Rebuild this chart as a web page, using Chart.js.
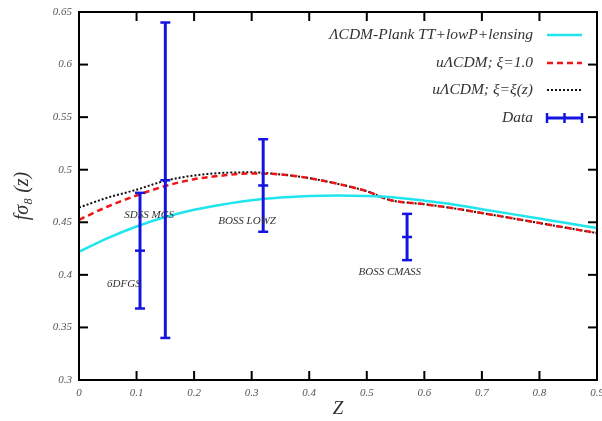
<!DOCTYPE html>
<html lang="en">
<head>
<meta charset="UTF-8">
<title>f sigma8 (z)</title>
<script src="https://cdn.jsdelivr.net/npm/chart.js@4.4.3/dist/chart.umd.min.js"></script>
<style>
  html, body { margin: 0; padding: 0; background: #fff; }
  #wrap { width: 602px; height: 421px; }
</style>
</head>
<body>
<div id="wrap"><canvas id="chart"></canvas></div>
<script>
// model curves, sampled in z
const zModel   = [0, 0.05, 0.1, 0.15, 0.2, 0.25, 0.3, 0.35, 0.4, 0.45, 0.5, 0.54, 0.6, 0.65, 0.7, 0.75, 0.8, 0.85, 0.9];
const lcdm     = [0.422, 0.435, 0.446, 0.455, 0.462, 0.467, 0.471, 0.4735, 0.475, 0.4755, 0.475, 0.474, 0.4705, 0.467, 0.4625, 0.458, 0.4535, 0.449, 0.4445];
const ucdmXi1  = [0.4524, 0.465, 0.4755, 0.4845, 0.491, 0.4945, 0.4965, 0.4955, 0.492, 0.4865, 0.4795, 0.4712, 0.4672, 0.4634, 0.4588, 0.4541, 0.4493, 0.4445, 0.4397];
const ucdmXiz  = [0.464, 0.4735, 0.481, 0.4895, 0.4945, 0.497, 0.4975, 0.4955, 0.492, 0.4865, 0.4795, 0.4712, 0.4672, 0.4634, 0.4588, 0.4541, 0.4493, 0.4445, 0.4397];

// growth-rate measurements
const dataNames = ['6DFGS', 'SDSS MGS', 'BOSS LOWZ', 'BOSS CMASS'];
const dataZ     = [0.106, 0.15, 0.32, 0.57];
const dataVal   = [0.423, 0.49, 0.485, 0.436];
const dataErr   = [0.055, 0.15, 0.044, 0.022];

const xTicks = [0, 0.1, 0.2, 0.3, 0.4, 0.5, 0.6, 0.7, 0.8, 0.9];
const yTicks = [0.3, 0.35, 0.4, 0.45, 0.5, 0.55, 0.6, 0.65];

const serif = '"Liberation Serif", "DejaVu Serif", serif';
const blue = '#1414e0';

// where the survey names sit (data coords of text centre)
const nameAnchors = [[0.078, 0.391], [0.122, 0.457], [0.292, 0.4515], [0.54, 0.403]];

const series = (ys) => zModel.map((z, i) => ({ x: z, y: ys[i] }));

function seg(ctx, x1, y1, x2, y2) {
    ctx.beginPath();
    ctx.moveTo(x1, y1);
    ctx.lineTo(x2, y2);
    ctx.stroke();
}

// error bars, frame with inward ticks, survey names and legend
const extras = {
    id: 'extras',
    afterDatasetsDraw(chart) {
        const { ctx, chartArea: a, scales: { x, y } } = chart;
        ctx.save();

        // error bars
        ctx.strokeStyle = blue;
        dataZ.forEach((z, i) => {
            const px = x.getPixelForValue(z);
            const top = y.getPixelForValue(dataVal[i] + dataErr[i]);
            const mid = y.getPixelForValue(dataVal[i]);
            const bot = y.getPixelForValue(dataVal[i] - dataErr[i]);
            ctx.lineWidth = 3;
            seg(ctx, px, top, px, bot);
            ctx.lineWidth = 2.5;
            [top, mid, bot].forEach(py => seg(ctx, px - 5, py, px + 5, py));
        });

        // survey names
        ctx.fillStyle = '#333';
        ctx.font = 'italic 11px ' + serif;
        ctx.textAlign = 'center';
        ctx.textBaseline = 'middle';
        dataNames.forEach((n, i) => {
            ctx.fillText(n, x.getPixelForValue(nameAnchors[i][0]), y.getPixelForValue(nameAnchors[i][1]));
        });

        // frame
        ctx.strokeStyle = '#000';
        ctx.lineWidth = 2;
        ctx.strokeRect(a.left, a.top, a.right - a.left, a.bottom - a.top);
        const tl = 9;
        xTicks.forEach(v => {
            const px = x.getPixelForValue(v);
            seg(ctx, px, a.bottom, px, a.bottom - tl);
            seg(ctx, px, a.top, px, a.top + tl);
        });
        yTicks.forEach(v => {
            const py = y.getPixelForValue(v);
            seg(ctx, a.left, py, a.left + tl, py);
            seg(ctx, a.right, py, a.right - tl, py);
        });

        // legend
        const rows = [35, 63, 90, 118];
        const textRight = 533, s0 = 547, s1 = 582;
        ctx.font = 'italic 15.5px ' + serif;
        ctx.textAlign = 'right';
        ctx.fillStyle = '#333';
        chart.data.datasets.forEach((ds, i) => {
            const ry = rows[i];
            ctx.fillText(ds.label, textRight, ry);
            if (ds.type === 'scatter') {
                ctx.strokeStyle = blue;
                ctx.setLineDash([]);
                ctx.lineWidth = 3;
                seg(ctx, s0, ry, s1, ry);
                ctx.lineWidth = 2.5;
                [s0, (s0 + s1) / 2, s1].forEach(px => seg(ctx, px, ry - 5, px, ry + 5));
            } else {
                ctx.strokeStyle = ds.borderColor;
                ctx.lineWidth = ds.borderWidth;
                ctx.setLineDash(ds.borderDash || []);
                seg(ctx, s0, ry, s1, ry);
            }
        });
        ctx.restore();
    }
};

const fmt = v => String(parseFloat(Number(v).toFixed(2)));

new Chart(document.getElementById('chart'), {
    type: 'line',
    data: {
        datasets: [
            {
                label: 'ΛCDM-Plank TT+lowP+lensing',
                data: series(lcdm),
                borderColor: '#22e4ee',
                borderWidth: 2.5,
                pointRadius: 0,
                cubicInterpolationMode: 'monotone'
            },
            {
                label: 'uΛCDM; ξ=1.0',
                data: series(ucdmXi1),
                borderColor: '#ee1515',
                borderWidth: 2.5,
                borderDash: [6, 4],
                pointRadius: 0,
                cubicInterpolationMode: 'monotone'
            },
            {
                label: 'uΛCDM; ξ=ξ(z)',
                data: series(ucdmXiz),
                borderColor: '#111',
                borderWidth: 2,
                borderDash: [2, 2],
                pointRadius: 0,
                cubicInterpolationMode: 'monotone'
            },
            {
                type: 'scatter',
                label: 'Data',
                data: dataZ.map((z, i) => ({ x: z, y: dataVal[i] })),
                pointRadius: 0,
                borderColor: blue
            }
        ]
    },
    options: {
        responsive: true,
        maintainAspectRatio: false,
        animation: false,
        devicePixelRatio: 1,
        layout: { padding: { top: 12, right: 5, left: 0, bottom: 0 } },
        plugins: {
            legend: { display: false },
            tooltip: { enabled: false }
        },
        scales: {
            x: {
                type: 'linear',
                min: 0,
                max: 0.9,
                afterBuildTicks: s => { s.ticks = xTicks.map(v => ({ value: v })); },
                afterFit: s => { s.height = 41; s.paddingLeft = 0; s.paddingRight = 0; },
                grid: { display: false, drawTicks: false },
                border: { display: false },
                ticks: {
                    callback: fmt,
                    padding: 7,
                    maxRotation: 0,
                    autoSkip: false,
                    color: '#555',
                    font: { family: serif, style: 'italic', size: 11 }
                },
                title: {
                    display: true,
                    text: 'Z',
                    color: '#333',
                    padding: { top: 0, bottom: 1 },
                    font: { family: serif, style: 'italic', size: 19 }
                }
            },
            y: {
                min: 0.3,
                max: 0.65,
                afterBuildTicks: s => { s.ticks = yTicks.map(v => ({ value: v })); },
                afterFit: s => { s.width = 79; s.paddingTop = 0; s.paddingBottom = 0; },
                grid: { display: false, drawTicks: false },
                border: { display: false },
                ticks: {
                    callback: fmt,
                    padding: 7,
                    autoSkip: false,
                    color: '#555',
                    font: { family: serif, style: 'italic', size: 11 }
                },
                title: {
                    display: true,
                    text: 'fσ₈ (z)',
                    color: '#333',
                    padding: { top: 11, bottom: 0 },
                    font: { family: serif, style: 'italic', size: 20 }
                }
            }
        }
    },
    plugins: [extras]
});
</script>
</body>
</html>
